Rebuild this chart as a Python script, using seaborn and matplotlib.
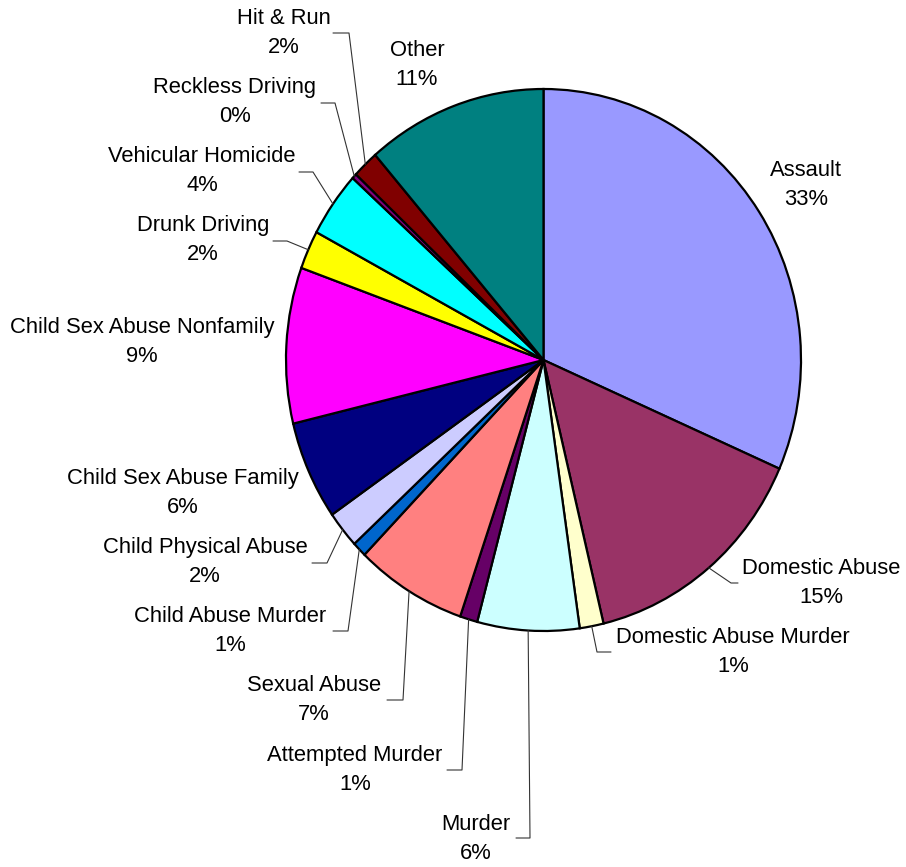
"""Pie chart of offence categories, Excel-style labels with leader lines."""
import matplotlib
matplotlib.use("Agg")
import matplotlib.pyplot as plt
import numpy as np
import seaborn as sns

# ---- data ----
categories = [
    "Assault", "Domestic Abuse", "Domestic Abuse Murder", "Murder",
    "Attempted Murder", "Sexual Abuse", "Child Abuse Murder",
    "Child Physical Abuse", "Child Sex Abuse Family",
    "Child Sex Abuse Nonfamily", "Drunk Driving", "Vehicular Homicide",
    "Reckless Driving", "Hit & Run", "Other",
]
shares = [31.6, 14.7, 1.5, 6.4, 1.1, 7.0, 0.9, 2.2, 5.9, 9.3, 2.3, 3.9, 0.3, 1.65, 11.35]
pct_labels = ["33%", "15%", "1%", "6%", "1%", "7%", "1%", "2%", "6%", "9%",
              "2%", "4%", "0%", "2%", "11%"]
colors = [
    "#9999FF", "#993366", "#FFFFCC", "#CCFFFF", "#660066", "#FF8080",
    "#0066CC", "#CCCCFF", "#000080", "#FF00FF", "#FFFF00", "#00FFFF",
    "#800080", "#800000", "#008080",
]

# ---- layout (pixel positions on the 906x867 canvas) ----
CX, CY, RX, RY = 543.5, 360.0, 257.5, 271.0
label_centers = {
    "Assault": (806, 185), "Domestic Abuse": (821, 583),
    "Domestic Abuse Murder": (733, 652), "Murder": (476, 839),
    "Attempted Murder": (355, 770), "Sexual Abuse": (314, 700),
    "Child Abuse Murder": (230, 631), "Child Physical Abuse": (205, 562),
    "Child Sex Abuse Family": (183, 493), "Child Sex Abuse Nonfamily": (142, 342),
    "Drunk Driving": (203, 240), "Vehicular Homicide": (202, 171),
    "Reckless Driving": (235, 102), "Hit & Run": (284, 33), "Other": (417, 65),
}
# elbow point and end point of each leader line
leaders = {
    "Domestic Abuse": ((731, 583), (738, 583)),
    "Domestic Abuse Murder": ((597, 652), (611, 652)),
    "Murder": ((530, 838), (516, 838)),
    "Attempted Murder": ((462, 770), (447, 770)),
    "Sexual Abuse": ((403, 700), (387, 700)),
    "Child Abuse Murder": ((348, 631), (333, 631)),
    "Child Physical Abuse": ((327, 563), (312, 563)),
    "Drunk Driving": ((287, 241), (273, 241)),
    "Vehicular Homicide": ((313, 172), (299, 172)),
    "Reckless Driving": ((335, 103), (321, 103)),
    "Hit & Run": ((349, 33), (333, 33)),
}


def px(x, y):
    """Pixel position -> data coordinates of the unit pie."""
    return (x - CX) / RX, (CY - y) / RY


sns.set_theme(style="white")
plt.rcParams["font.family"] = ["Liberation Sans", "DejaVu Sans"]

fig = plt.figure(figsize=(9.06, 8.67), dpi=100)
ax = fig.add_axes([0, 0, 1, 1])

wedges, _ = ax.pie(
    shares,
    colors=colors,
    startangle=90,
    counterclock=False,
    wedgeprops={"edgecolor": "black", "linewidth": 1.6},
)

ax.set_aspect("auto")
ax.set_xlim(px(0, 0)[0], px(906, 0)[0])
ax.set_ylim(px(0, 867)[1], px(0, 0)[1])
ax.axis("off")

for wedge, name, pct in zip(wedges, categories, pct_labels):
    lx, ly = px(*label_centers[name])
    ax.text(lx, ly, f"{name}\n{pct}", ha="center", va="center",
            multialignment="center", fontsize=15.8, linespacing=1.53,
            color="black")
    if name in leaders:
        mid = np.deg2rad((wedge.theta1 + wedge.theta2) / 2)
        elbow, end = leaders[name]
        xs = [np.cos(mid), px(*elbow)[0], px(*end)[0]]
        ys = [np.sin(mid), px(*elbow)[1], px(*end)[1]]
        ax.plot(xs, ys, color="#333333", linewidth=0.8)

fig.savefig("out.png", dpi=100)
plt.close(fig)
